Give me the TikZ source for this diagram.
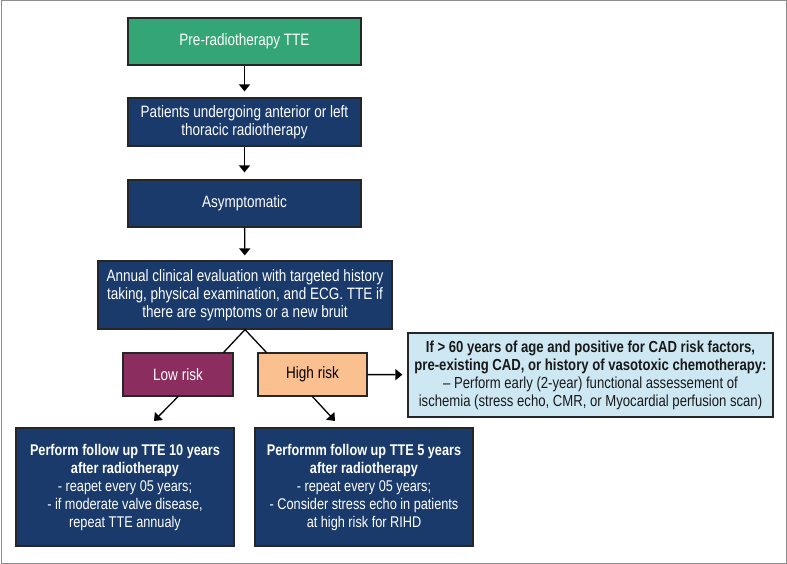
\documentclass[tikz,border=0pt]{standalone}
\usepackage{fontspec}
\setmainfont{Liberation Sans}[FakeStretch=0.82]
\usepackage{tikz}
\usetikzlibrary{calc}
\usetikzlibrary{arrows.meta}
\definecolor{boxgreen}{RGB}{52,165,116}
\definecolor{boxblue}{RGB}{25,58,107}
\definecolor{boxpurple}{RGB}{140,45,95}
\definecolor{boxpeach}{RGB}{251,192,143}
\definecolor{boxlight}{RGB}{205,232,243}
\definecolor{framegray}{RGB}{140,140,140}
\tikzset{
	basestyle/.style={rectangle,draw=black!85,line width=1.2pt,align=center,inner sep=0pt},
	greenstyle/.style={basestyle,fill=boxgreen,text=white,minimum width=233pt,minimum height=47pt},
	bluestyle/.style={basestyle,fill=boxblue,text=white},
	lowstyle/.style={basestyle,fill=boxpurple,text=white,minimum width=110pt,minimum height=43pt},
	highstyle/.style={basestyle,fill=boxpeach,text=black,minimum width=109pt,minimum height=43pt},
	notestyle/.style={basestyle,fill=boxlight,text=black!90,minimum width=365pt,minimum height=84pt,font=\fontsize{16}{18}\selectfont},
	smalltext/.style={font=\fontsize{15.5}{18}\selectfont},
	flowarrow/.style={line width=1.3pt,-{Triangle[length=7pt,width=11pt]}},
	flowline/.style={line width=1.3pt}
}
\begin{document}
\begin{tikzpicture}[x=1pt,y=-1pt]
		\fontsize{16.5}{18}\selectfont
		\useasboundingbox (0,0) rectangle (787,564);
		\draw[framegray,line width=1pt] (1,1) rectangle (786,563);
		\node[greenstyle] (pre) at (244.5,41.5) {Pre-radiotherapy TTE};
		\node[bluestyle,minimum width=233pt,minimum height=48pt] (pat) at (244.5,122) {Patients undergoing anterior or left\\thoracic radiotherapy};
		\node[bluestyle,minimum width=233pt,minimum height=47pt] (asym) at (244.5,203.5) {Asymptomatic};
		\node[bluestyle,minimum width=294pt,minimum height=68pt] (annual) at (245,295) {Annual clinical evaluation with targeted history\\taking, physical examination, and ECG. TTE if\\there are symptoms or a new bruit};
		\node[lowstyle] (low) at (178,374.5) {Low risk};
		\node[highstyle] (high) at (312.5,374.5) {High risk};
		\node[notestyle] (note) at (590.5,375) {\textbf{If > 60 years of age and positive for CAD risk factors,}\\\textbf{pre-existing CAD, or history of vasotoxic chemotherapy:}\\– Perform early (2-year) functional assessement of\\ischemia (stress echo, CMR, or Myocardial perfusion scan)};
		\node[bluestyle,smalltext,minimum width=218pt,minimum height=118pt] (fl) at (125,487) {\textbf{Perform follow up TTE 10 years}\\\textbf{after radiotherapy}\\- reapet every 05 years;\\- if moderate valve disease,\\repeat TTE annualy};
		\node[bluestyle,smalltext,minimum width=218pt,minimum height=118pt] (fh) at (364,487) {\textbf{Performm follow up TTE 5 years}\\\textbf{after radiotherapy}\\- repeat every 05 years;\\- Consider stress echo in patients\\at high risk for RIHD};
		\coordinate (lowend) at (154,421);
		\coordinate (highend) at (335,421);
		\draw[flowarrow,shorten >=6pt] (pre)--(pat);
		\draw[flowarrow,shorten >=7pt] (pat)--(asym);
		\draw[flowarrow,shorten >=5pt] (asym)--(annual);
		\draw[flowline] (annual.south)--($(low.north east)+(-10,0)$);
		\draw[flowline] (annual.south)--($(high.north west)+(9,0)$);
		\draw[flowarrow,shorten >=5pt] (high)--(note);
		\draw[flowarrow] (low.south)--(lowend);
		\draw[flowarrow] (high.south)--(highend);
		\end{tikzpicture}
\end{document}
